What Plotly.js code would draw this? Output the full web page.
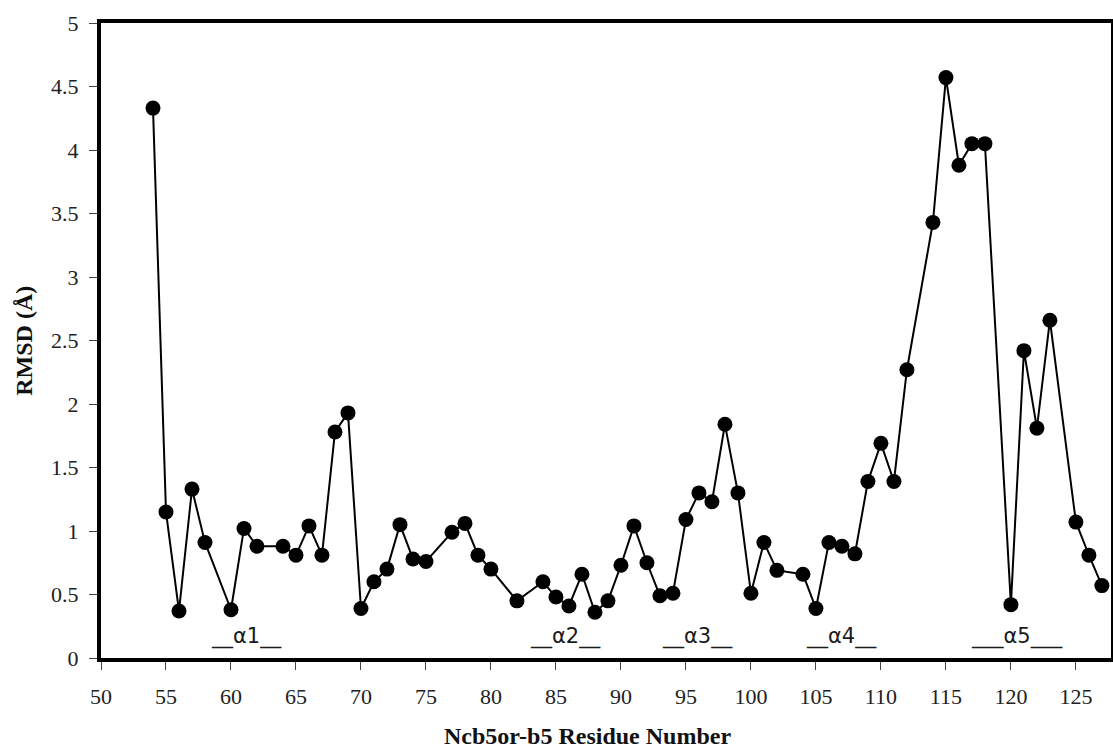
<!DOCTYPE html>
<html>
<head>
<meta charset="utf-8">
<script src="https://cdn.plot.ly/plotly-3.0.1.min.js"></script>
<style>
  html, body { margin: 0; padding: 0; background: #fff; }
  #chart { width: 1113px; height: 750px; }
</style>
</head>
<body>
<div id="chart"></div>
<script>
// Per-residue RMSD of the Ncb5or-b5 domain
const residues = [54, 55, 56, 57, 58, 60, 61, 62, 64, 65, 66, 67, 68, 69, 70, 71, 72, 73, 74, 75,
  77, 78, 79, 80, 82, 84, 85, 86, 87, 88, 89, 90, 91, 92, 93, 94, 95, 96, 97, 98, 99, 100,
  101, 102, 104, 105, 106, 107, 108, 109, 110, 111, 112, 114, 115, 116, 117, 118,
  120, 121, 122, 123, 125, 126, 127];
const rmsd = [4.33, 1.15, 0.37, 1.33, 0.91, 0.38, 1.02, 0.88, 0.88, 0.81, 1.04, 0.81, 1.78, 1.93, 0.39, 0.60, 0.70, 1.05, 0.78, 0.76,
  0.99, 1.06, 0.81, 0.70, 0.45, 0.60, 0.48, 0.41, 0.66, 0.36, 0.45, 0.73, 1.04, 0.75, 0.49, 0.51, 1.09, 1.30, 1.23, 1.84, 1.30, 0.51,
  0.91, 0.69, 0.66, 0.39, 0.91, 0.88, 0.82, 1.39, 1.69, 1.39, 2.27, 3.43, 4.57, 3.88, 4.05, 4.05,
  0.42, 2.42, 1.81, 2.66, 1.07, 0.81, 0.57];

// Helix markers drawn along the bottom of the plot
const helixLabels = ['__\u03b11__', '__\u03b12__', '__\u03b13__', '__\u03b14__', '___\u03b15___'];
const helixCenters = [61.2, 85.7, 95.9, 107.0, 120.5];

const xTitle = 'Ncb5or-b5 Residue Number';
const yTitle = 'RMSD (\u00c5)';

const serif = 'Liberation Serif';

const trace = {
  x: residues,
  y: rmsd,
  type: 'scatter',
  mode: 'lines+markers',
  line: { color: '#000', width: 2 },
  marker: { color: '#000', size: 15 },
  showlegend: false,
  hoverinfo: 'x+y'
};

const helixAnnotations = helixLabels.map((t, i) => ({
  x: helixCenters[i], y: 0.17, xref: 'x', yref: 'y',
  text: t, showarrow: false, xanchor: 'center', yanchor: 'middle',
  font: { family: 'DejaVu Sans', size: 21, color: '#1a1a1a' }
}));

const layout = {
  width: 1113,
  height: 750,
  margin: { l: 101, r: 2, t: 23, b: 92, pad: 0 },
  paper_bgcolor: '#fff',
  plot_bgcolor: '#fff',
  showlegend: false,
  font: { family: serif, size: 22, color: '#222' },
  xaxis: {
    range: [50, 127.7],
    tickmode: 'linear', tick0: 50, dtick: 5,
    ticks: 'outside', ticklen: 8, tickwidth: 1, tickcolor: '#444',
    showline: true, linewidth: 4, linecolor: '#000', mirror: true,
    showgrid: false, zeroline: false,
    ticklabelstandoff: 8,
    tickfont: { family: serif, size: 22, color: '#222' }
  },
  yaxis: {
    range: [0, 5],
    tickmode: 'linear', tick0: 0, dtick: 0.5,
    ticks: 'outside', ticklen: 8, tickwidth: 1, tickcolor: '#444',
    showline: true, linewidth: 4, linecolor: '#000', mirror: true,
    showgrid: false, zeroline: false,
    ticklabelstandoff: 6,
    tickfont: { family: serif, size: 22, color: '#222' }
  },
  annotations: helixAnnotations.concat([
    {
      x: 0.4817, y: -0.123, xref: 'paper', yref: 'paper',
      text: '<b>' + xTitle + '</b>', showarrow: false,
      xanchor: 'center', yanchor: 'middle',
      font: { family: serif, size: 24, color: '#111' }
    },
    {
      x: -0.077, y: 0.5, xref: 'paper', yref: 'paper',
      text: '<b>' + yTitle + '</b>', showarrow: false, textangle: -90,
      xanchor: 'center', yanchor: 'middle',
      font: { family: serif, size: 24, color: '#111' }
    }
  ])
};

Plotly.newPlot('chart', [trace], layout, { displayModeBar: false, staticPlot: true });
</script>
</body>
</html>
